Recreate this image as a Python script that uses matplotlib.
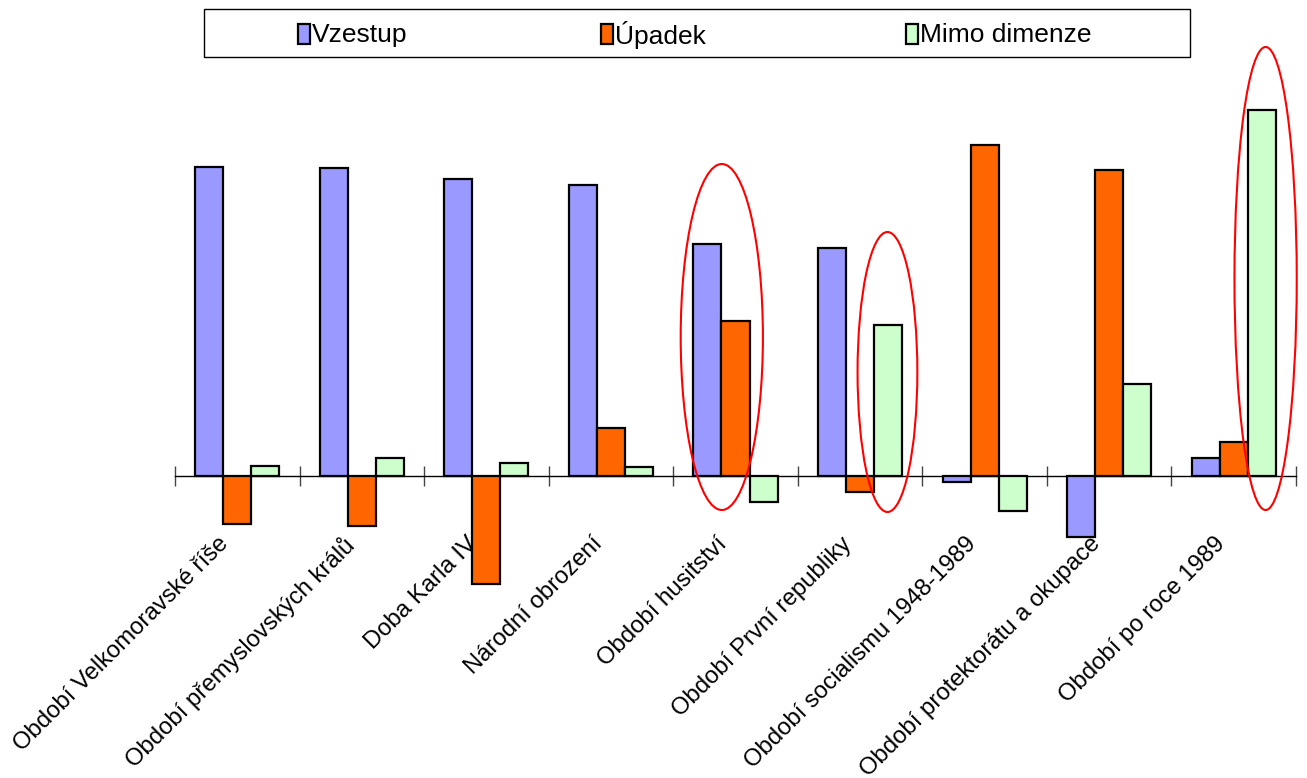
import numpy as np
import matplotlib.pyplot as plt
from matplotlib.patches import Ellipse, Rectangle

plt.rcParams['font.family'] = ['Liberation Sans', 'DejaVu Sans']

categories = ['Období Velkomoravské říše', 'Období přemyslovských králů',
              'Doba Karla IV', 'Národní obrození', 'Období husitství',
              'Období První republiky', 'Období socialismu 1948-1989',
              'Období protektorátu a okupace', 'Období po roce 1989']
series_names = ['Vzestup', 'Úpadek', 'Mimo dimenze']
vzestup = [309, 308, 297, 291, 232, 228, -6, -61, 18]
upadek = [-48, -50, -108, 48, 155, -16, 331, 306, 34]
mimo = [10, 18, 13, 9, -26, 151, -35, 92, 366]
colors = ['#9999FF', '#FF6600', '#CCFFCC']

fig = plt.figure(figsize=(13.07, 7.78), dpi=100)
ax = fig.add_axes([175 / 1307, 178 / 778, 1121 / 1307, 540 / 778])

x = np.arange(len(categories))
w = 0.225
for k, vals in enumerate([vzestup, upadek, mimo]):
    ax.bar(x + (k - 1) * w, vals, w, color=colors[k], edgecolor='black',
           linewidth=1.6, zorder=3)

ax.set_xlim(-0.5, len(categories) - 0.5)
ax.set_ylim(-124, 416)
for s in ['left', 'right', 'top']:
    ax.spines[s].set_visible(False)
ax.spines['bottom'].set_position(('data', 0))
ax.spines['bottom'].set_linewidth(1.0)
ax.set_yticks([])
ax.set_xticks(np.arange(len(categories) + 1) - 0.5)
ax.set_xticklabels([])
ax.tick_params(axis='x', direction='inout', length=14, width=1.0, color='#444444')

# category labels, rotated, below the axis (bars are drawn over them)
for i, lab in enumerate(categories):
    ax.text(i - 0.16, -57, lab, rotation=45, ha='right', va='top',
            rotation_mode='anchor', fontsize=17.2, zorder=1)

# red ellipses
ellipses = [(3.89, 139, 0.66, 346), (5.22, 104, 0.48, 280), (8.256, 197.5, 0.5, 463)]
for cx, cy, ew, eh in ellipses:
    ax.add_patch(Ellipse((cx, cy), ew, eh, fill=False, edgecolor='red',
                         linewidth=1.5, zorder=4, clip_on=False))

# legend box drawn by hand at the top
fig.add_artist(Rectangle((204 / 1307, 1 - 57 / 778), 986 / 1307, 48 / 778,
                         transform=fig.transFigure, fill=False,
                         edgecolor='black', linewidth=1.0))
for px, name, c in zip([298, 601, 906], series_names, colors):
    fig.add_artist(Rectangle((px / 1307, 1 - 44 / 778), 12 / 1307, 20 / 778,
                             transform=fig.transFigure, facecolor=c,
                             edgecolor='black', linewidth=1.6))
    fig.text((px + 14) / 1307, 1 - 35 / 778, name, fontsize=19, va='center')

fig.savefig('out.png', dpi=100)
